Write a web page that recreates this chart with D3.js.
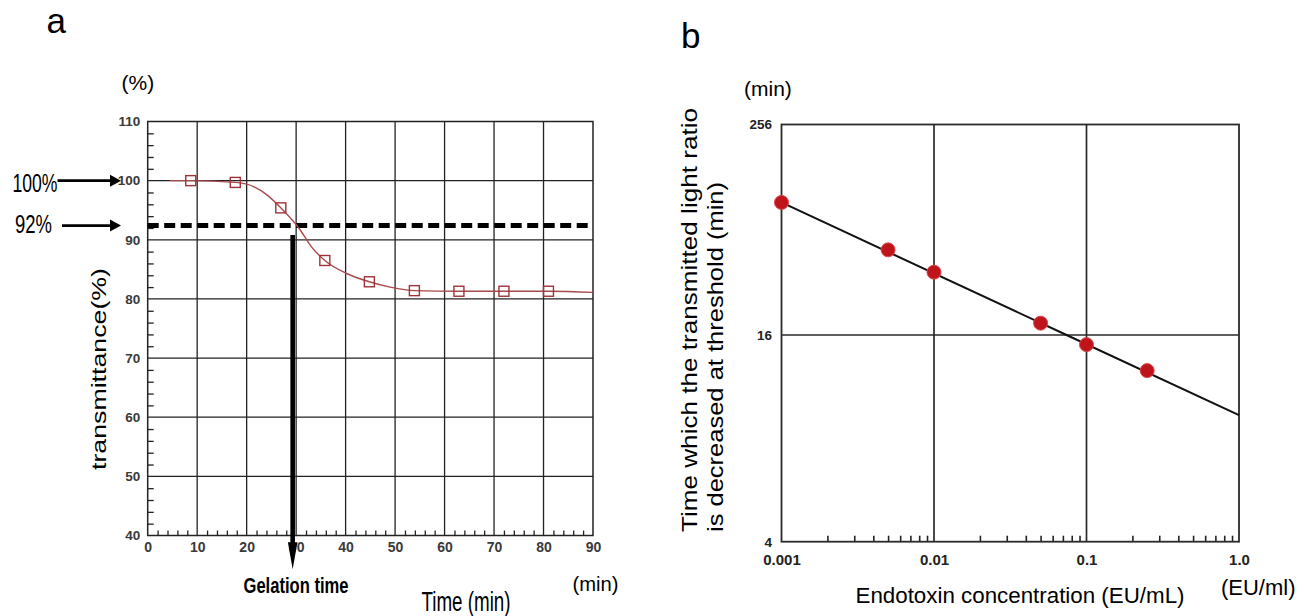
<!DOCTYPE html>
<html>
<head>
<meta charset="utf-8">
<script src="https://cdn.jsdelivr.net/npm/d3@7"></script>
<style>
  body { margin: 0; background: #fff; }
  text { font-family: "Liberation Sans", Arial, sans-serif; }
  .tick-a text { font-family: "Liberation Sans Narrow", "Arial Narrow", sans-serif; font-weight: bold; fill: #3a3a3a; }
  .tick-b text { font-family: "Liberation Sans", Arial, sans-serif; font-weight: bold; fill: #222; }
</style>
</head>
<body>
<svg id="chart" width="1304" height="616"></svg>
<script>
// ---- panel a : transmittance against time ----
var timeTicks = [0, 10, 20, 30, 40, 50, 60, 70, 80, 90];
var transTicks = [40, 50, 60, 70, 80, 90, 100, 110];
var sampleTime = [8.7, 17.7, 26.9, 35.8, 44.8, 53.9, 62.9, 72, 81];
var sampleTrans = [100, 99.7, 95.4, 86.5, 82.9, 81.4, 81.3, 81.3, 81.3];
// fitted curve
var curveTime = [4.5, 8.7, 17.7, 21.4, 24.1, 26.9, 30.8, 33.1, 35.8, 40.2, 44.8, 49, 53.9, 62.9, 72, 81, 90];
var curveTrans = [100, 100, 99.7, 99.0, 97.6, 95.4, 91.7, 88.8, 86.5, 84.3, 82.9, 82.0, 81.4, 81.3, 81.3, 81.3, 81.1];
var thresholdTrans = 92.4;
var gelationTime = 29.3;
var gelationSpan = [90.8, 34.3];
var levelLabels = ["100%", "92%"];
var levelTrans = [100, 92.4];

// ---- panel b : calibration curve ----
var concTicks = [0.001, 0.01, 0.1, 1.0];
var concTickLabels = ["0.001", "0.01", "0.1", "1.0"];
var minuteTicks = [4, 16, 256];
var concValues = [0.001, 0.005, 0.01, 0.05, 0.1, 0.25];
var gelTimes = [91.7, 49.1, 36.6, 18.7, 15.0, 12.6];
var fitConc = [0.001, 0.074, 1.0];
var fitTime = [91.7, 16, 9.35];

var svg = d3.select("#chart");
svg.append("rect").attr("width", 1304).attr("height", 616).attr("fill", "#fff");

// Scales
var xa = d3.scaleLinear().domain([0, 90]).range([147.7, 593]);
var ya = d3.scaleLinear().domain([40, 110]).range([535.5, 121.5]);
var xb = d3.scaleLog().domain([0.001, 1]).range([781.5, 1239]);
var yb = d3.scaleLog().domain([4, 16, 256]).range([541.7, 335, 124.5]);

// helper for filled arrow heads
function head(g, x, y, dir, len, half) {
  var p;
  if (dir === "right") p = [[x, y], [x - len, y - half], [x - len, y + half]];
  else p = [[x, y], [x - half, y - len], [x + half, y - len]];
  g.append("path").attr("d", "M" + p.join("L") + "Z").attr("fill", "#000");
}

// ================= panel a =================
var ga = svg.append("g");

// grid
ga.selectAll(".vgrid").data(timeTicks.slice(1, -1)).enter().append("line")
  .attr("x1", function(d) { return xa(d); }).attr("x2", function(d) { return xa(d); })
  .attr("y1", ya(110)).attr("y2", ya(40))
  .attr("stroke", "#222").attr("stroke-width", 1.3);
ga.selectAll(".hgrid").data(transTicks.slice(1, -1)).enter().append("line")
  .attr("y1", function(d) { return ya(d); }).attr("y2", function(d) { return ya(d); })
  .attr("x1", xa(0)).attr("x2", xa(90))
  .attr("stroke", "#222").attr("stroke-width", 1.3);

// minor ticks (inward)
var minorTrans = d3.range(40, 110, 2).filter(function(d) { return d % 10 !== 0; });
var minorTime = d3.range(0, 90, 2).filter(function(d) { return d % 10 !== 0; });
ga.append("g").attr("transform", "translate(" + xa(0) + ",0)")
  .call(d3.axisLeft(ya).tickValues(minorTrans).tickSize(-6).tickFormat(""))
  .call(function(g) { g.select(".domain").remove(); g.selectAll("line").attr("stroke", "#222").attr("stroke-width", 1.3); });
ga.append("g").attr("transform", "translate(0," + ya(40) + ")")
  .call(d3.axisBottom(xa).tickValues(minorTime).tickSize(-5).tickFormat(""))
  .call(function(g) { g.select(".domain").remove(); g.selectAll("line").attr("stroke", "#222").attr("stroke-width", 1.3); });

// tick labels
ga.append("g").attr("class", "tick-a").attr("transform", "translate(" + xa(0) + ",0)")
  .call(d3.axisLeft(ya).tickValues(transTicks).tickSize(0).tickPadding(7.5))
  .call(function(g) { g.select(".domain").remove(); g.selectAll("text").attr("font-size", 13.5); });
ga.append("g").attr("class", "tick-a").attr("transform", "translate(0," + ya(40) + ")")
  .call(d3.axisBottom(xa).tickValues(timeTicks).tickSize(0).tickPadding(7))
  .call(function(g) { g.select(".domain").remove(); g.selectAll("text").attr("font-size", 14); });

// frame
ga.append("rect").attr("x", xa(0)).attr("y", ya(110))
  .attr("width", xa(90) - xa(0)).attr("height", ya(40) - ya(110))
  .attr("fill", "none").attr("stroke", "#222").attr("stroke-width", 1.5);

// threshold dashed line
ga.append("line").attr("x1", xa(0)).attr("x2", xa(90))
  .attr("y1", ya(thresholdTrans)).attr("y2", ya(thresholdTrans))
  .attr("stroke", "#000").attr("stroke-width", 5).attr("stroke-dasharray", "11,5.5");

// fitted curve
var curveLine = d3.line()
  .x(function(d, i) { return xa(curveTime[i]); })
  .y(function(d, i) { return ya(curveTrans[i]); })
  .curve(d3.curveMonotoneX);
ga.append("path").datum(curveTime).attr("d", curveLine)
  .attr("fill", "none").attr("stroke", "#a84a4c").attr("stroke-width", 1.4);

// sample squares
ga.selectAll(".sq").data(sampleTime).enter().append("rect")
  .attr("x", function(d) { return xa(d) - 5; })
  .attr("y", function(d, i) { return ya(sampleTrans[i]) - 5; })
  .attr("width", 10).attr("height", 10)
  .attr("fill", "none").attr("stroke", "#9e3338").attr("stroke-width", 1.4);

// gelation arrow
var gx = xa(gelationTime), gTip = ya(gelationSpan[1]);
ga.append("line").attr("x1", gx).attr("x2", gx)
  .attr("y1", ya(gelationSpan[0])).attr("y2", gTip - 24)
  .attr("stroke", "#000").attr("stroke-width", 4.6);
head(ga, gx, gTip, "down", 27, 4.8);

// level arrows at left
var levelStart = [57.5, 62];
levelTrans.forEach(function(v, i) {
  ga.append("line").attr("x1", levelStart[i]).attr("x2", 111)
    .attr("y1", ya(v)).attr("y2", ya(v))
    .attr("stroke", "#000").attr("stroke-width", 2.6);
  head(ga, 121, ya(v), "right", 11, 6);
});
ga.append("text").attr("x", 12.5).attr("y", 192).attr("font-size", 25)
  .attr("textLength", 45).attr("lengthAdjust", "spacingAndGlyphs").text(levelLabels[0]);
ga.append("text").attr("x", 15).attr("y", 233).attr("font-size", 25)
  .attr("textLength", 37).attr("lengthAdjust", "spacingAndGlyphs").text(levelLabels[1]);

// labels
ga.append("text").attr("x", 46.5).attr("y", 33).attr("font-size", 35).text("a");
ga.append("text").attr("x", 121.5).attr("y", 89.5).attr("font-size", 21).text("(%)");
ga.append("text").attr("transform", "translate(106,470) rotate(-90)")
  .attr("font-size", 21).attr("textLength", 202).attr("lengthAdjust", "spacingAndGlyphs")
  .text("transmittance(%)");
ga.append("text").attr("x", 243.5).attr("y", 592.5).attr("font-size", 22).attr("font-weight", "bold")
  .attr("textLength", 105).attr("lengthAdjust", "spacingAndGlyphs").text("Gelation time");
ga.append("text").attr("x", 421.5).attr("y", 611).attr("font-size", 28)
  .attr("textLength", 89).attr("lengthAdjust", "spacingAndGlyphs").text("Time (min)");
ga.append("text").attr("x", 572.5).attr("y", 591).attr("font-size", 21)
  .attr("textLength", 46).attr("lengthAdjust", "spacingAndGlyphs").text("(min)");

// ================= panel b =================
var gb = svg.append("g");

gb.selectAll(".vgrid").data(concTicks.slice(1, -1)).enter().append("line")
  .attr("x1", function(d) { return xb(d); }).attr("x2", function(d) { return xb(d); })
  .attr("y1", yb(256)).attr("y2", yb(4))
  .attr("stroke", "#2a2a2a").attr("stroke-width", 1.7);
gb.selectAll(".hgrid").data(minuteTicks.slice(1, -1)).enter().append("line")
  .attr("y1", function(d) { return yb(d); }).attr("y2", function(d) { return yb(d); })
  .attr("x1", xb(0.001)).attr("x2", xb(1))
  .attr("stroke", "#2a2a2a").attr("stroke-width", 1.7);

var minorConc = [];
concTicks.slice(0, 3).forEach(function(d) {
  for (var k = 2; k <= 9; k++) minorConc.push(d * k);
});
gb.append("g").attr("transform", "translate(0," + yb(4) + ")")
  .call(d3.axisBottom(xb).tickValues(minorConc).tickSize(-6).tickFormat(""))
  .call(function(g) { g.select(".domain").remove(); g.selectAll("line").attr("stroke", "#222").attr("stroke-width", 1.6); });

gb.append("g").attr("class", "tick-b").attr("transform", "translate(" + xb(0.001) + ",0)")
  .call(d3.axisLeft(yb).tickValues(minuteTicks).tickSize(0).tickPadding(9.5).tickFormat(d3.format("d")))
  .call(function(g) { g.select(".domain").remove(); g.selectAll("text").attr("font-size", 13.5); });
gb.append("g").attr("class", "tick-b").attr("transform", "translate(0," + yb(4) + ")")
  .call(d3.axisBottom(xb).tickValues(concTicks).tickSize(0).tickPadding(13)
    .tickFormat(function(d, i) { return concTickLabels[i]; }))
  .call(function(g) { g.select(".domain").remove(); g.selectAll("text").attr("font-size", 15); });

gb.append("rect").attr("x", xb(0.001)).attr("y", yb(256))
  .attr("width", xb(1) - xb(0.001)).attr("height", yb(4) - yb(256))
  .attr("fill", "none").attr("stroke", "#2a2a2a").attr("stroke-width", 1.8);

// regression line
var fitLine = d3.line()
  .x(function(d, i) { return xb(fitConc[i]); })
  .y(function(d, i) { return yb(fitTime[i]); });
gb.append("path").datum(fitConc).attr("d", fitLine)
  .attr("fill", "none").attr("stroke", "#111").attr("stroke-width", 2);

gb.selectAll(".pt").data(concValues).enter().append("circle")
  .attr("cx", function(d) { return xb(d); })
  .attr("cy", function(d, i) { return yb(gelTimes[i]); })
  .attr("r", 7).attr("fill", "#c0141b").attr("stroke", "#d9474c").attr("stroke-width", 1);

gb.append("text").attr("x", 681).attr("y", 48).attr("font-size", 35).text("b");
gb.append("text").attr("x", 744).attr("y", 95.5).attr("font-size", 21).text("(min)");
gb.append("text").attr("transform", "translate(697,532) rotate(-90)")
  .attr("font-size", 22).attr("textLength", 424).attr("lengthAdjust", "spacingAndGlyphs")
  .text("Time which the transmitted light ratio");
gb.append("text").attr("transform", "translate(722.5,532) rotate(-90)")
  .attr("font-size", 22).attr("textLength", 350).attr("lengthAdjust", "spacingAndGlyphs")
  .text("is decreased at threshold (min)");
gb.append("text").attr("x", 855.5).attr("y", 602.5).attr("font-size", 22)
  .attr("textLength", 329).attr("lengthAdjust", "spacingAndGlyphs")
  .text("Endotoxin concentration (EU/mL)");
gb.append("text").attr("x", 1221).attr("y", 594.5).attr("font-size", 22)
  .attr("textLength", 74.5).attr("lengthAdjust", "spacingAndGlyphs").text("(EU/ml)");
</script>
</body>
</html>
